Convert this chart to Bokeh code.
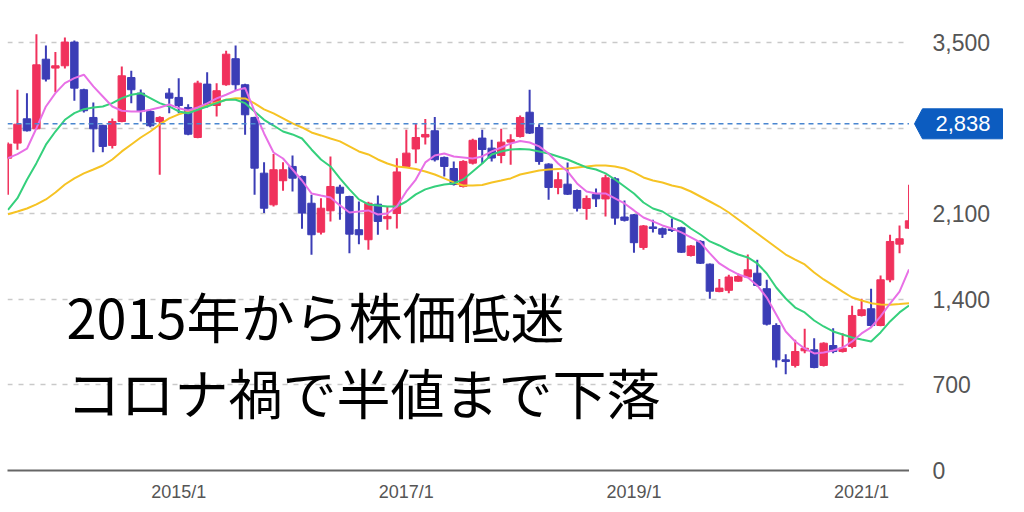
from bokeh.plotting import figure
from bokeh.layouts import row
from bokeh.models import Range1d, FixedTicker, Label, Span, ColumnDataSource
from bokeh.core.properties import value
from bokeh.embed import file_html
from bokeh.resources import INLINE

# ---- data (monthly, 2013/7 .. 2021/6) ----
start_year, start_month = 2013, 7
opens = [2557, 2680, 2879, 2797, 3367, 3294, 3313, 3507, 3117, 2890,
         2825, 2661, 2857, 3217, 3089, 2939, 2857, 3089, 3054, 2972,
         2726, 3163, 2988, 3158, 3371, 3158, 2890, 2434, 2175, 2372,
         2489, 2407, 2188, 1951, 2126, 2319, 2243, 1971, 1889, 2180,
         2061, 2104, 2489, 2632, 2730, 2781, 2563, 2472, 2325, 2516,
         2721, 2639, 2579, 2688, 2734, 2933, 2808, 2508, 2317, 2344,
         2292, 2145, 2260, 2223, 2388, 2075, 2093, 1826, 1994, 1979,
         1977, 1987, 1760, 1875, 1689, 1465, 1475, 1550, 1584, 1615,
         1488, 1187, 906, 860, 980, 988, 860, 1023, 974, 1015,
         1269, 1324, 1187, 1561, 1853, 1984]
highs = [2685, 3117, 3089, 3572, 3479, 3425, 3545, 3520, 3125, 3013,
         2830, 2882, 3308, 3272, 3119, 2955, 2900, 3130, 3212, 2999,
         3190, 3261, 3171, 3436, 3479, 3165, 2895, 2524, 2590, 2524,
         2579, 2415, 2257, 2229, 2571, 2339, 2250, 2202, 2200, 2251,
         2161, 2557, 2789, 2841, 2878, 2894, 2570, 2530, 2540, 2715,
         2789, 2707, 2797, 2753, 2906, 3117, 2835, 2515, 2442, 2522,
         2300, 2251, 2309, 2421, 2400, 2210, 2100, 2010, 2052, 1990,
         2063, 1995, 1845, 1885, 1695, 1568, 1602, 1613, 1768, 1725,
         1561, 1206, 952, 1070, 1160, 1083, 1050, 1165, 1124, 1348,
         1406, 1488, 1596, 1930, 2006, 2339]
lows = [2257, 2626, 2775, 2790, 3185, 3097, 3290, 3027, 2930, 2606,
        2606, 2636, 2850, 3007, 2857, 2810, 2421, 2925, 2925, 2745,
        2720, 2972, 2898, 3150, 3109, 2748, 2257, 2107, 2161, 2290,
        2284, 1979, 1766, 1932, 2039, 2052, 1779, 1853, 1807, 1930,
        1971, 1981, 2481, 2516, 2669, 2530, 2407, 2333, 2317, 2505,
        2509, 2530, 2516, 2503, 2725, 2755, 2503, 2216, 2262, 2255,
        2120, 2052, 2157, 2080, 2012, 2039, 1783, 1807, 1949, 1904,
        1953, 1780, 1752, 1690, 1406, 1460, 1452, 1545, 1580, 1506,
        1187, 843, 788, 843, 960, 838, 851, 960, 965, 1001,
        1261, 1179, 1180, 1542, 1779, 1980]
closes = [2671, 2835, 2781, 3321, 3204, 3313, 3507, 3130, 2945, 2797,
          2653, 2857, 3231, 3117, 2939, 2822, 2890, 3048, 2988, 2753,
          3171, 2988, 3109, 3408, 3158, 2912, 2475, 2147, 2462, 2462,
          2393, 2107, 1930, 2147, 2325, 2270, 1935, 1930, 2188, 2039,
          2080, 2444, 2598, 2726, 2751, 2544, 2489, 2341, 2530, 2703,
          2628, 2558, 2688, 2707, 2890, 2762, 2530, 2317, 2380, 2262,
          2147, 2227, 2224, 2396, 2066, 2048, 1865, 2002, 1981, 1935,
          1965, 1787, 1838, 1697, 1468, 1493, 1584, 1588, 1643, 1515,
          1198, 906, 892, 974, 1001, 843, 1042, 974, 1001, 1269,
          1316, 1187, 1561, 1875, 1897, 2044]
ma_short = [2557, 2590, 2634, 2802, 2980, 3089, 3171, 3212, 3240, 3144,
            3062, 2980, 2945, 2939, 2939, 2953, 2972, 2996, 2966, 2947,
            2972, 3005, 3046, 3076, 3111, 3132, 2939, 2759, 2603, 2554,
            2464, 2374, 2268, 2251, 2235, 2170, 2112, 2120, 2129, 2096,
            2104, 2161, 2284, 2382, 2522, 2579, 2595, 2571, 2563, 2554,
            2571, 2612, 2644, 2677, 2698, 2685, 2653, 2595, 2513, 2448,
            2350, 2284, 2268, 2268, 2227, 2186, 2129, 2071, 2039, 2006,
            1981, 1949, 1908, 1867, 1777, 1695, 1646, 1605, 1580, 1515,
            1416, 1277, 1138, 1056, 999, 958, 966, 982, 1007, 1056,
            1122, 1171, 1261, 1367, 1465, 1646]
ma_mid = [2134, 2229, 2380, 2516, 2667, 2775, 2871, 2925, 2958, 2972,
          2980, 3007, 3048, 3076, 3089, 3048, 3007, 2980, 2939, 2925,
          2953, 2980, 3007, 3035, 3035, 3007, 2939, 2871, 2824, 2775,
          2751, 2718, 2628, 2546, 2489, 2391, 2301, 2219, 2178, 2170,
          2161, 2161, 2202, 2260, 2301, 2325, 2341, 2350, 2382, 2448,
          2513, 2587, 2612, 2628, 2632, 2628, 2612, 2595, 2571, 2546,
          2513, 2481, 2464, 2432, 2382, 2325, 2268, 2194, 2145, 2120,
          2071, 2039, 1981, 1932, 1875, 1842, 1801, 1768, 1744, 1695,
          1613, 1498, 1408, 1334, 1294, 1228, 1179, 1138, 1113, 1089,
          1072, 1056, 1130, 1220, 1294, 1351]
ma_long = [2098, 2120, 2145, 2178, 2219, 2276, 2341, 2391, 2432, 2464,
           2497, 2546, 2612, 2669, 2726, 2775, 2833, 2882, 2915, 2939,
           2964, 2988, 3013, 3035, 3048, 3046, 3005, 2956, 2923, 2882,
           2841, 2808, 2767, 2743, 2718, 2694, 2653, 2612, 2587, 2546,
           2513, 2489, 2481, 2468, 2448, 2423, 2391, 2358, 2333, 2333,
           2337, 2358, 2374, 2391, 2423, 2440, 2456, 2464, 2468, 2472,
           2481, 2489, 2497, 2497, 2489, 2472, 2440, 2399, 2374, 2358,
           2333, 2317, 2284, 2243, 2202, 2161, 2112, 2055, 1998, 1940,
           1883, 1826, 1768, 1727, 1687, 1621, 1564, 1515, 1465, 1416,
           1392, 1370, 1359, 1357, 1363, 1370]
current_price = 2838
y_ticks = [0, 700, 1400, 2100, 2800, 3500]
x_tick_labels = ["2015/1", "2017/1", "2019/1", "2021/1"]
headline = ["2015年から株価低迷", "コロナ禍で半値まで下落"]

UP = "#f0315c"
DOWN = "#3b3db6"
TAG = "#0c5cc0"
LABEL_GREY = "#555555"

n = len(opens)
months = []
for i in range(n):
    m0 = start_month - 1 + i
    months.append(f"{start_year + m0 // 12}/{m0 % 12 + 1}")
xs = list(range(n))
colors = [UP if c >= o else DOWN for o, c in zip(opens, closes)]
src = ColumnDataSource(dict(
    x=xs, open=opens, high=highs, low=lows, close=closes,
    top=[max(o, c) for o, c in zip(opens, closes)],
    bottom=[min(o, c) for o, c in zip(opens, closes)],
    color=colors, ma_s=ma_short, ma_m=ma_mid, ma_l=ma_long))

Y_TOP = 3782
FRAME_H = 462

# ---------------- main chart ----------------
p = figure(frame_width=902, frame_height=FRAME_H,
           x_range=Range1d(-0.05, n - 0.95), y_range=Range1d(0, Y_TOP),
           output_backend="svg", toolbar_location=None, y_axis_location=None,
           min_border_left=7, min_border_top=8, min_border_right=0, min_border_bottom=30)
p.outline_line_color = None
p.background_fill_color = "white"
p.border_fill_color = "white"

p.xgrid.visible = False
p.ygrid.ticker = FixedTicker(ticks=[t for t in y_ticks if t > 0])
p.ygrid.grid_line_color = "#c9c9c9"
p.ygrid.grid_line_dash = "5 6"
p.ygrid.grid_line_width = 1.5

tick_pos = [months.index(t) for t in x_tick_labels]
p.xaxis.ticker = FixedTicker(ticks=tick_pos)
p.xaxis.major_label_overrides = {pos: lab for pos, lab in zip(tick_pos, x_tick_labels)}
p.xaxis.axis_line_color = "#666666"
p.xaxis.axis_line_width = 2
p.xaxis.major_tick_line_color = None
p.xaxis.minor_tick_line_color = None
p.xaxis.major_tick_out = 0
p.xaxis.major_tick_in = 0
p.xaxis.major_label_standoff = 11
p.xaxis.major_label_text_font = "Liberation Sans"
p.xaxis.major_label_text_font_size = "18px"
p.xaxis.major_label_text_color = LABEL_GREY

# candles
p.segment(x0="x", y0="low", x1="x", y1="high", source=src, line_color="color", line_width=2)
p.vbar(x="x", width=0.78, top="top", bottom="bottom", source=src,
       fill_color="color", line_color="color", line_width=1)

# moving averages
p.line("x", "ma_l", source=src, line_color="#f6c324", line_width=2)
p.line("x", "ma_m", source=src, line_color="#35d07c", line_width=2)
p.line("x", "ma_s", source=src, line_color="#e870e6", line_width=2)

# current price line
p.add_layout(Span(location=current_price, dimension="width", line_color="#4a86d0",
                  line_dash="5 4", line_width=1.5))

# headline text
p.add_layout(Label(x=59, y=155, x_units="screen", y_units="screen", text=headline[0],
                   text_font="Noto Sans CJK JP", text_font_size="54px",
                   text_color="black", text_baseline="middle"))
p.add_layout(Label(x=59, y=79, x_units="screen", y_units="screen", text=headline[1],
                   text_font="Noto Sans CJK JP", text_font_size="54px",
                   text_color="black", text_baseline="middle"))

# ---------------- price scale panel (right) ----------------
PANEL_W = 98
PANEL_H = 492
units_per_px = Y_TOP / FRAME_H
y_bottom = Y_TOP - PANEL_H * units_per_px
q = figure(frame_width=PANEL_W, frame_height=PANEL_H,
           x_range=Range1d(0, PANEL_W), y_range=Range1d(y_bottom, Y_TOP),
           output_backend="svg", toolbar_location=None,
           x_axis_location=None, y_axis_location=None,
           min_border_left=0, min_border_top=8, min_border_right=0, min_border_bottom=0)
q.outline_line_color = None
q.grid.visible = False
q.background_fill_color = "white"
q.border_fill_color = "white"

shown = [t for t in y_ticks if abs(t - current_price) > 150]
q.text(x=[23] * len(shown), y=shown, text=[f"{t:,}" for t in shown],
       text_font=value("Liberation Sans"), text_font_size=value("23px"),
       text_color=LABEL_GREY, text_baseline="middle", text_align="left")

half_h = 15 * units_per_px
q.patch(x=[5, 13, 93, 93, 13],
        y=[current_price, current_price + half_h, current_price + half_h,
           current_price - half_h, current_price - half_h],
        fill_color=TAG, line_color=TAG, line_width=1)
q.text(x=[26], y=[current_price], text=[f"{current_price:,}"],
       text_font=value("Liberation Sans"), text_font_size=value("22px"),
       text_color="white", text_baseline="middle", text_align="left")

layout = row(p, q)
open("out.html", "w").write(file_html(layout, INLINE))
